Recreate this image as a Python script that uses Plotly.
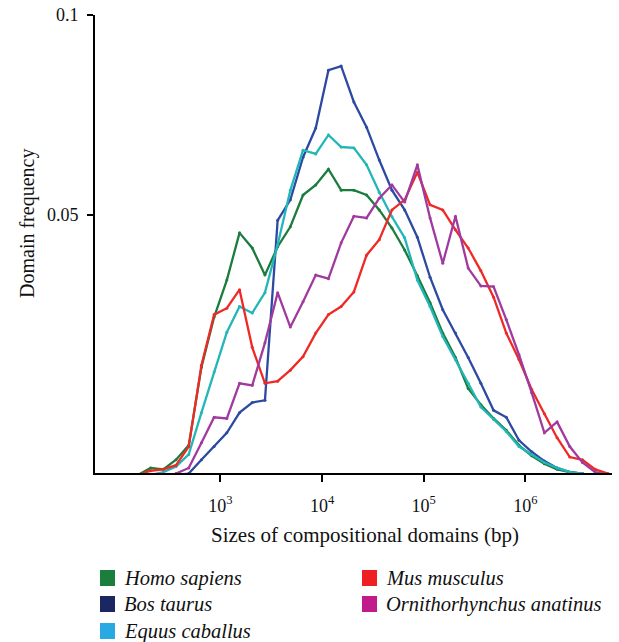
import math
import plotly.graph_objects as go

# ---- data (log10 of domain size in bp, bin centres) ----
log_sizes = [2.1875, 2.3125, 2.4375, 2.5625, 2.6875, 2.8125, 2.9375, 3.0625, 3.1875, 3.3125,
             3.4375, 3.5625, 3.6875, 3.8125, 3.9375, 4.0625, 4.1875, 4.3125, 4.4375, 4.5625,
             4.6875, 4.8125, 4.9375, 5.0625, 5.1875, 5.3125, 5.4375, 5.5625, 5.6875, 5.8125,
             5.9375, 6.0625, 6.1875, 6.3125, 6.4375, 6.5625, 6.6875, 6.8125]

homo_sapiens = [0.0203, 0.0208, 0.0207, 0.0214, 0.0225, 0.0295, 0.0351, 0.0399, 0.0470, 0.0446,
                0.0406, 0.0448, 0.0480, 0.0536, 0.0555, 0.0586, 0.0545, 0.0545, 0.0536, 0.0509,
                0.0478, 0.0443, 0.0405, 0.0369, 0.0332, 0.0305, 0.0274, 0.0259, 0.0247, 0.0237,
                0.0225, 0.0217, 0.0211, 0.0207, 0.0205, 0.0204, None, None]

bos_taurus = [None, None, None, 0.0203, 0.0204, 0.0214, 0.0224, 0.0235, 0.0252, 0.0261,
              0.0263, 0.0491, 0.0527, 0.0611, 0.0676, 0.0826, 0.0838, 0.0740, 0.0678, 0.0605,
              0.0545, 0.0509, 0.0463, 0.0403, 0.0360, 0.0332, 0.0305, 0.0279, 0.0254, 0.0248,
              0.0229, 0.0220, 0.0213, 0.0208, 0.0205, 0.0204, None, None]

equus_caballus = [None, 0.0203, 0.0205, 0.0209, 0.0218, 0.0252, 0.0290, 0.0333, 0.0364, 0.0356,
                  0.0382, 0.0451, 0.0545, 0.0626, 0.0618, 0.0660, 0.0633, 0.0631, 0.0595, 0.0541,
                  0.0497, 0.0462, 0.0399, 0.0364, 0.0328, 0.0303, 0.0279, 0.0257, 0.0246, 0.0236,
                  0.0224, 0.0218, 0.0212, 0.0208, 0.0205, 0.0204, None, None]

mus_musculus = [0.0203, 0.0206, 0.0207, 0.0210, 0.0224, 0.0297, 0.0354, 0.0362, 0.0386, 0.0316,
                0.0279, 0.0281, 0.0292, 0.0306, 0.0332, 0.0354, 0.0364, 0.0383, 0.0435, 0.0459,
                0.0509, 0.0527, 0.0580, 0.0518, 0.0509, 0.0475, 0.0446, 0.0412, 0.0376, 0.0332,
                0.0303, 0.0273, 0.0251, 0.0231, 0.0216, 0.0214, 0.0207, 0.0204]

ornithorhynchus = [None, None, None, 0.0204, 0.0208, 0.0227, 0.0248, 0.0247, 0.0279, 0.0277,
                   0.0321, 0.0382, 0.0339, 0.0370, 0.0406, 0.0401, 0.0454, 0.0498, 0.0495, 0.0530,
                   0.0555, 0.0523, 0.0595, 0.0495, 0.0423, 0.0498, 0.0416, 0.0391, 0.0390, 0.0348,
                   0.0308, 0.0270, 0.0235, 0.0244, 0.0224, 0.0212, 0.0205, 0.0203]

series_names = ["Homo sapiens", "Bos taurus", "Equus caballus", "Mus musculus",
                "Ornithorhynchus anatinus"]
series_values = [homo_sapiens, bos_taurus, equus_caballus, mus_musculus, ornithorhynchus]
line_colors = ["#1b7c3e", "#2d4aa2", "#22b6b8", "#ee2a26", "#a03a9e"]
legend_colors = ["#1a7f3c", "#1c2660", "#29a9e1", "#ee2024", "#c21a8c"]

x_tick_vals = [1e3, 1e4, 1e5, 1e6]
x_tick_text = ["10<sup>3</sup>", "10<sup>4</sup>", "10<sup>5</sup>", "10<sup>6</sup>"]
y_tick_vals = [0.05, 0.1]
y_tick_text = ["0.05", "0.1"]

sizes_bp = [10 ** v for v in log_sizes]

FONT = "Liberation Serif, Times New Roman, serif"

fig = go.Figure()
for name, vals, col in zip(series_names, series_values, line_colors):
    fig.add_trace(go.Scatter(
        x=sizes_bp, y=vals, name=name, mode="lines+markers",
        line=dict(color=col, width=2.3),
        marker=dict(color=col, size=3),
        connectgaps=False, showlegend=False, cliponaxis=True,
    ))

# the page's body margin is removed (see post_script), so figure pixels = window pixels
W, H = 619, 642
# plot area in window pixels: x 95..612, y 15..473
ML, MR, MT, MB = 95, 619 - 612, 15, 642 - 473
PW = W - ML - MR
PH = H - MT - MB


def px(xp):  # window pixel -> paper x
    return (xp - ML) / PW


def py(yp):  # window pixel -> paper y
    return (H - MB - yp) / PH


shapes = []
annotations = []

# legend (two columns)
legend_pos = [(100, 578), (100, 604), (100, 631), (362, 578), (362, 604)]
for name, col, (lx, ly) in zip(series_names, legend_colors, legend_pos):
    shapes.append(dict(type="rect", xref="paper", yref="paper",
                       x0=px(lx), x1=px(lx + 15), y0=py(ly + 8), y1=py(ly - 8),
                       fillcolor=col, line=dict(width=0)))
    annotations.append(dict(text="<i>" + name + "</i>", xref="paper", yref="paper",
                            x=px(lx + 22), y=py(ly), xanchor="left", yanchor="middle",
                            showarrow=False, font=dict(family=FONT, size=20.5, color="#111")))

# axis titles
annotations.append(dict(text="Sizes of compositional domains (bp)", xref="paper", yref="paper",
                        x=px(365), y=py(535), xanchor="center", yanchor="middle",
                        showarrow=False, font=dict(family=FONT, size=21, color="#111")))
annotations.append(dict(text="Domain frequency", xref="paper", yref="paper",
                        x=px(27), y=py(224), xanchor="center", yanchor="middle",
                        textangle=-90, showarrow=False,
                        font=dict(family=FONT, size=20, color="#111")))

fig.update_layout(
    width=W, height=H,
    margin=dict(l=ML, r=MR, t=MT, b=MB, pad=0, autoexpand=False),
    paper_bgcolor="white", plot_bgcolor="white",
    font=dict(family=FONT, size=17, color="#111"),
    showlegend=False,
    shapes=shapes, annotations=annotations,
    xaxis=dict(type="log", range=[1.765, 6.853], showgrid=False, zeroline=False,
               showline=True, linecolor="black", linewidth=2, automargin=False,
               ticks="outside", ticklen=7, tickwidth=2, tickcolor="black",
               tickvals=x_tick_vals, ticktext=x_tick_text, ticklabelstandoff=8,
               ticklabeloverflow="allow",
               tickfont=dict(family=FONT, size=18, color="#111")),
    yaxis=dict(type="log", range=[math.log10(0.02044), -0.9998], showgrid=False, zeroline=False,
               showline=True, linecolor="black", linewidth=2, automargin=False,
               ticks="outside", ticklen=6, tickwidth=2, tickcolor="black",
               tickvals=y_tick_vals, ticktext=y_tick_text, ticklabelstandoff=5,
               ticklabeloverflow="allow",
               tickfont=dict(family=FONT, size=18, color="#111")),
)

fig.write_html("out.html",
               config={"displayModeBar": False},
               post_script="document.body.style.margin='0';document.body.style.overflow='hidden';")
